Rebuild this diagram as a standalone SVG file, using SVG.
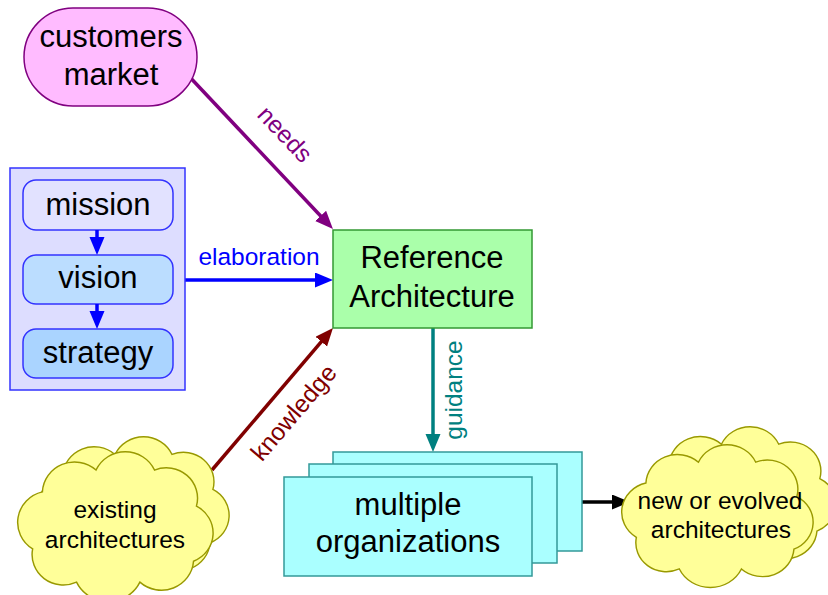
<svg xmlns="http://www.w3.org/2000/svg" xmlns:xlink="http://www.w3.org/1999/xlink" width="828" height="595" viewBox="0 0 828 595">
  <style>
    text { font-family: "Liberation Sans", Arial, sans-serif; fill: #000; }
    .main { font-size: 31px; text-anchor: middle; }
    .small { font-size: 24.5px; text-anchor: middle; }
    .label { font-size: 24.5px; text-anchor: middle; }
    .cloud { fill: #ffff99; stroke: #999900; stroke-width: 1.5; }
    .step { stroke: #3333ff; stroke-width: 1.5; }
    .org { fill: #aaffff; stroke: #339999; stroke-width: 1.5; }
    .conn { fill: none; stroke-width: 3.5; }
  </style>
  <defs>
    <!-- scalloped outline used for both cloud nodes -->
    <path id="cloudShape" d="M14,102 A33,33 0 0 1 24,42 A33,33 0 0 1 79,19 A33,33 0 0 1 139,19 A32,32 0 0 1 182,57 A32,32 0 0 1 179,115 A33,33 0 0 1 124,137 A36,36 0 0 1 59,137 A32,32 0 0 1 14,102 Z"/>
    <marker id="ahPurple" markerUnits="userSpaceOnUse" markerWidth="20" markerHeight="16" refX="8" refY="7.5" orient="auto">
      <path d="M0,0 L18,7.5 L0,15 Z" fill="#800080"/>
    </marker>
    <marker id="ahBlue" markerUnits="userSpaceOnUse" markerWidth="20" markerHeight="16" refX="8" refY="7.5" orient="auto">
      <path d="M0,0 L18,7.5 L0,15 Z" fill="#0000ff"/>
    </marker>
    <marker id="ahRed" markerUnits="userSpaceOnUse" markerWidth="20" markerHeight="16" refX="8" refY="7.5" orient="auto">
      <path d="M0,0 L18,7.5 L0,15 Z" fill="#800000"/>
    </marker>
    <marker id="ahTeal" markerUnits="userSpaceOnUse" markerWidth="20" markerHeight="16" refX="8" refY="7.5" orient="auto">
      <path d="M0,0 L18,7.5 L0,15 Z" fill="#008080"/>
    </marker>
    <marker id="ahBlack" markerUnits="userSpaceOnUse" markerWidth="20" markerHeight="16" refX="8" refY="7.5" orient="auto">
      <path d="M0,0 L18,7.5 L0,15 Z" fill="#000000"/>
    </marker>
  </defs>

  <rect width="828" height="595" fill="#ffffff"/>

  <!-- connectors -->
  <g id="connectors">
    <line class="conn" x1="185" y1="72" x2="326.1" y2="221.7" stroke="#800080" marker-end="url(#ahPurple)"/>
    <text class="label" style="fill:#800080" transform="translate(279,140) rotate(46.6)">needs</text>

    <line class="conn" x1="185" y1="280" x2="323" y2="280" stroke="#0000ff" marker-end="url(#ahBlue)"/>
    <text class="label" style="fill:#0000ff" x="259" y="265">elaboration</text>

    <line class="conn" x1="212" y1="470" x2="326.5" y2="335.6" stroke="#800000" marker-end="url(#ahRed)"/>
    <text class="label" style="fill:#800000" transform="translate(300,418) rotate(-49.6)">knowledge</text>

    <line class="conn" x1="433" y1="328" x2="433" y2="442" stroke="#008080" marker-end="url(#ahTeal)"/>
    <text class="label" style="fill:#008080" transform="translate(462,390) rotate(-90)">guidance</text>

    <line class="conn" x1="582" y1="502" x2="620" y2="502" stroke="#000000" marker-end="url(#ahBlack)"/>
  </g>

  <!-- customers / market -->
  <g id="customers">
    <rect x="24" y="8" width="173" height="98" rx="49" ry="49" fill="#ffbbff" stroke="#800080" stroke-width="1.5"/>
    <text class="main" x="111" y="47">customers</text>
    <text class="main" x="111" y="85">market</text>
  </g>

  <!-- mission / vision / strategy stack -->
  <g id="planning">
    <rect x="10" y="168" width="175" height="222" fill="#ddddff" stroke="#3333ff" stroke-width="1.5"/>
    <g id="mission">
      <rect class="step" x="23" y="180" width="150" height="50" rx="13" fill="#e2e2ff"/>
      <text class="main" x="98" y="215">mission</text>
    </g>
    <line class="conn" x1="97" y1="230" x2="97" y2="245" stroke="#0000ff" stroke-width="3" marker-end="url(#ahBlue)"/>
    <g id="vision">
      <rect class="step" x="23" y="255" width="150" height="49" rx="13" fill="#bbddff"/>
      <text class="main" x="98" y="288">vision</text>
    </g>
    <line class="conn" x1="97" y1="304" x2="97" y2="319" stroke="#0000ff" stroke-width="3" marker-end="url(#ahBlue)"/>
    <g id="strategy">
      <rect class="step" x="23" y="329" width="150" height="49" rx="13" fill="#aad4ff"/>
      <text class="main" x="98" y="363">strategy</text>
    </g>
  </g>

  <!-- central node -->
  <g id="reference">
    <rect x="333" y="230" width="199" height="98" fill="#aaffaa" stroke="#339933" stroke-width="1.5"/>
    <text class="main" x="432" y="268">Reference</text>
    <text class="main" x="432" y="307">Architecture</text>
  </g>

  <!-- stacked organizations -->
  <g id="organizations">
    <rect class="org" x="333" y="452" width="249" height="99"/>
    <rect class="org" x="309" y="464" width="248" height="99"/>
    <rect class="org" x="284" y="477" width="248" height="99"/>
    <text class="main" x="408" y="515">multiple</text>
    <text class="main" x="408" y="552">organizations</text>
  </g>

  <!-- existing architectures cloud -->
  <g id="existing">
    <use xlink:href="#cloudShape" class="cloud" transform="translate(40,437) scale(0.95,0.92)"/>
    <use xlink:href="#cloudShape" class="cloud" transform="translate(19,452) scale(0.975,0.95)"/>
    <text class="small" x="115" y="518">existing</text>
    <text class="small" x="115" y="548">architectures</text>
  </g>

  <!-- new or evolved architectures cloud -->
  <g id="evolved">
    <use xlink:href="#cloudShape" class="cloud" transform="translate(646,427) scale(0.955,0.905)"/>
    <use xlink:href="#cloudShape" class="cloud" transform="translate(623,445) scale(0.955,0.905)"/>
    <text class="small" x="720" y="509">new or evolved</text>
    <text class="small" x="721" y="538">architectures</text>
  </g>
</svg>
